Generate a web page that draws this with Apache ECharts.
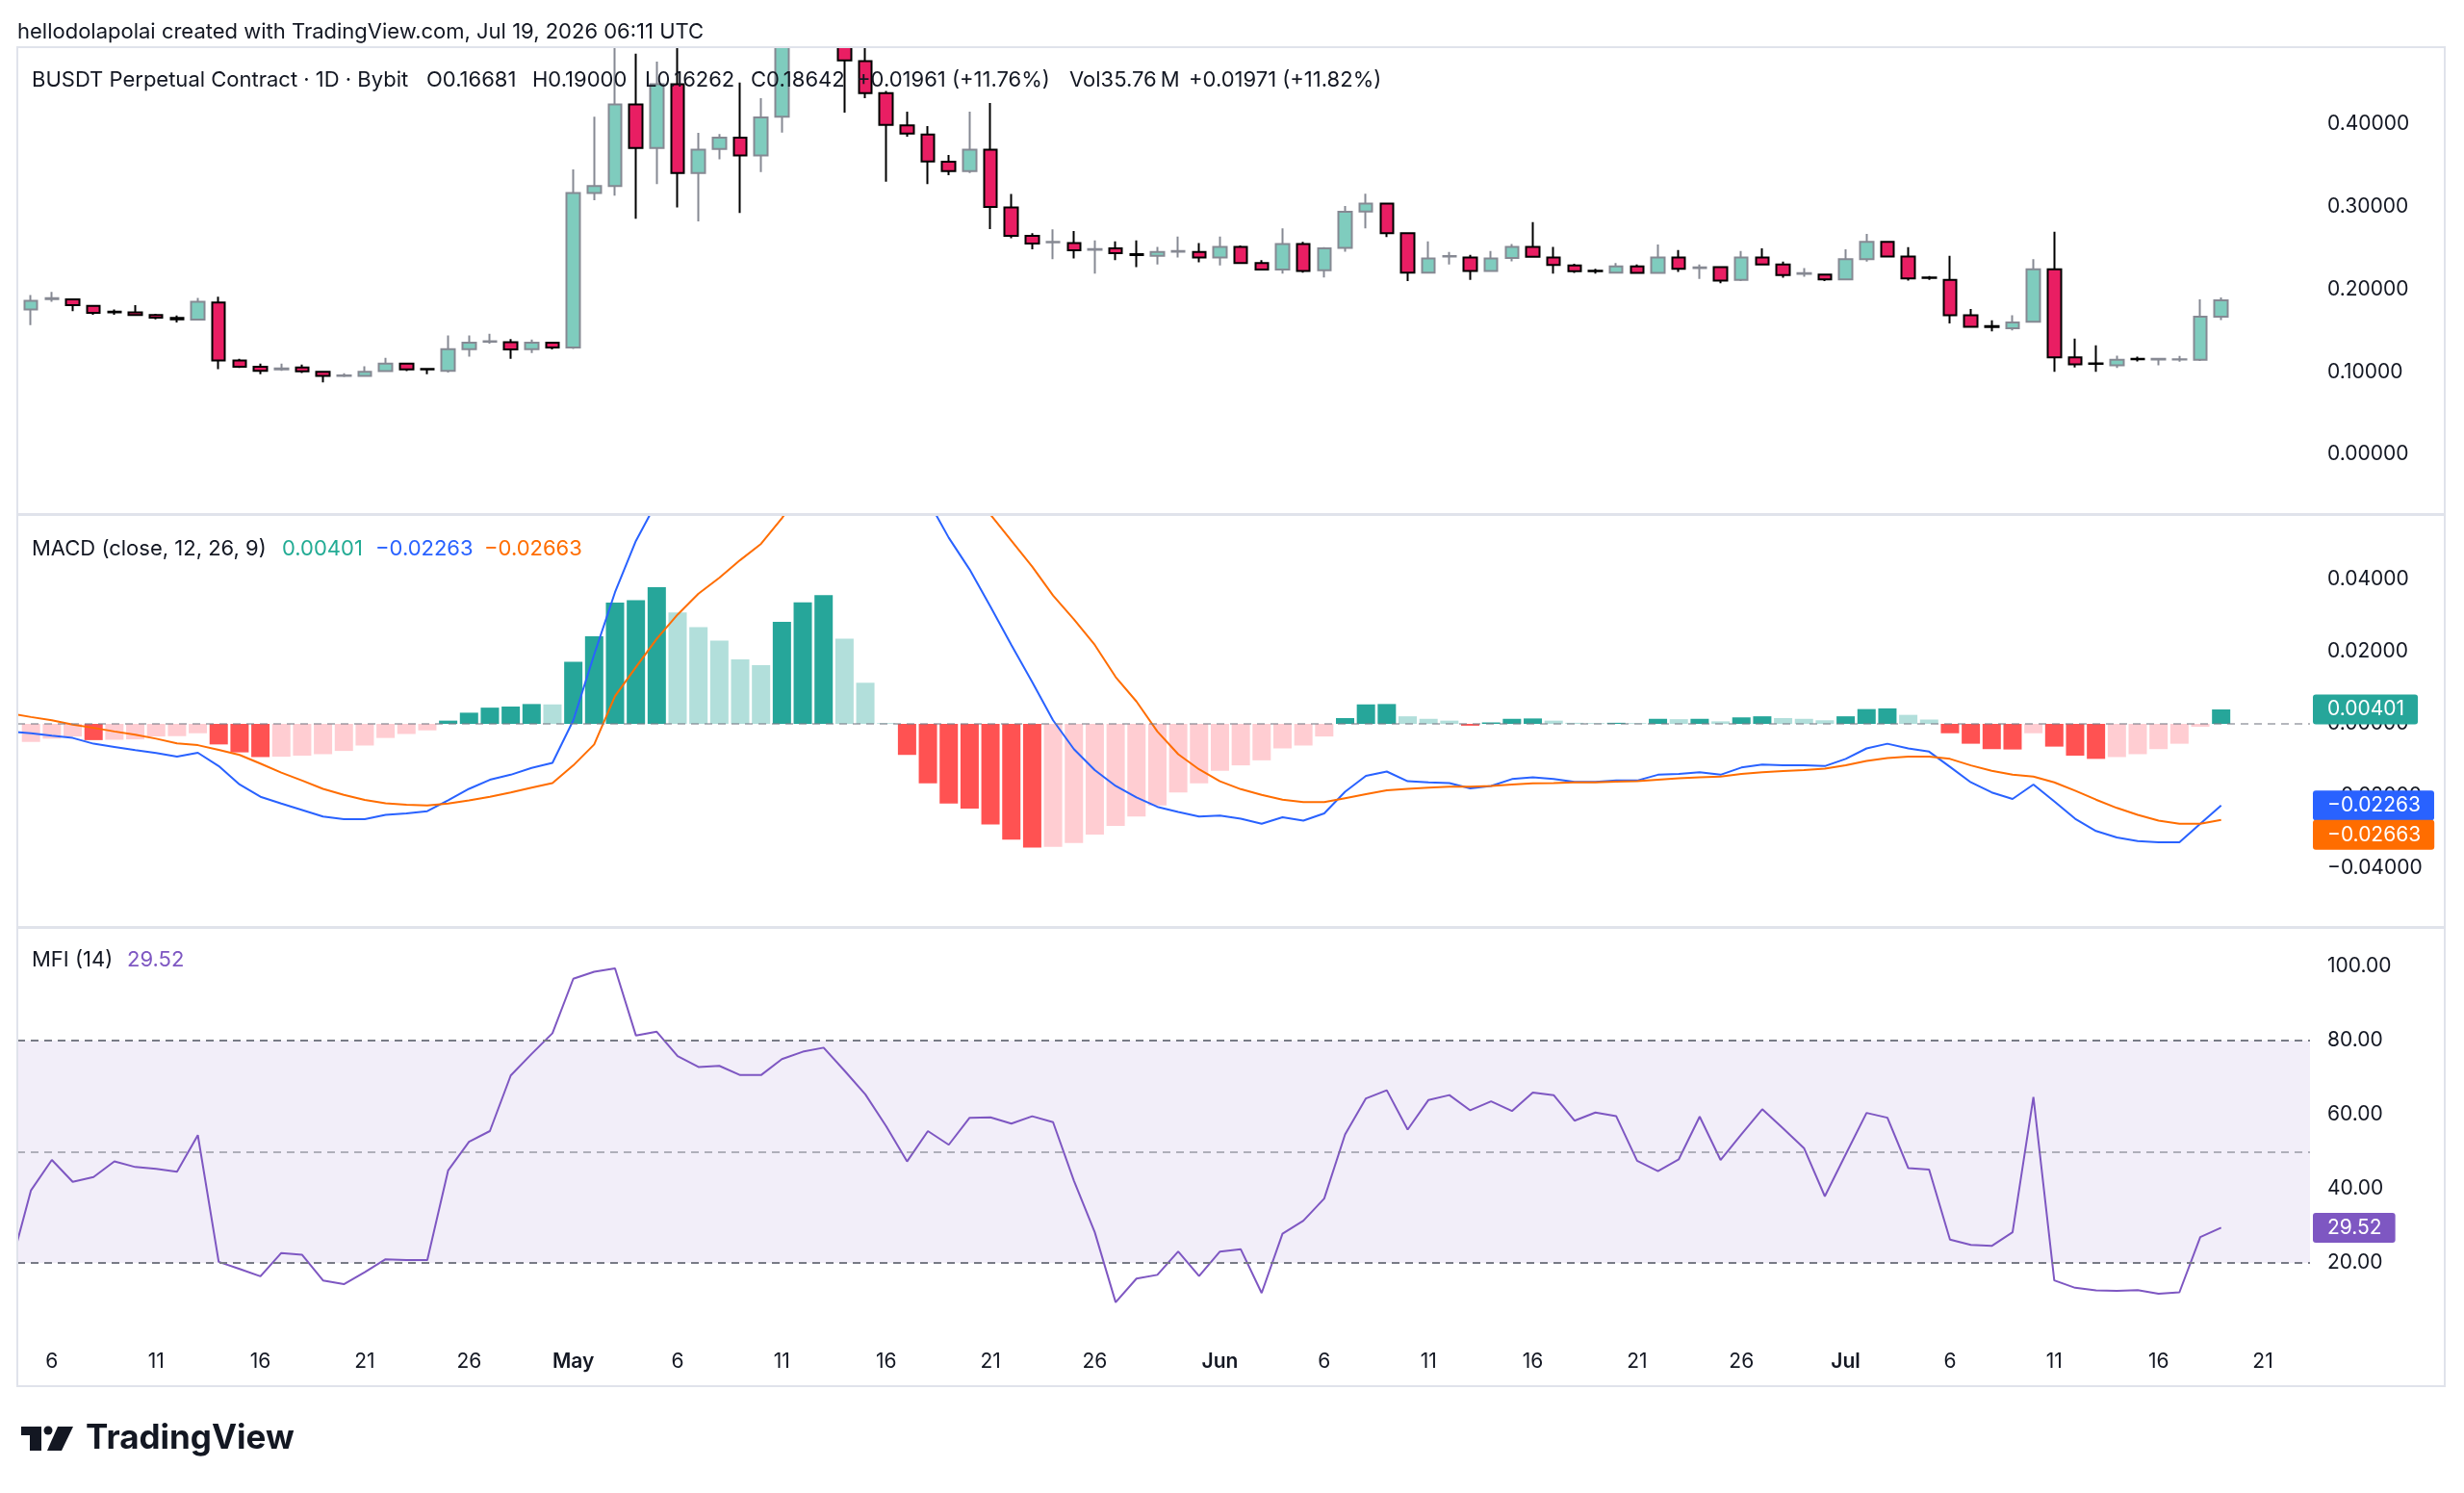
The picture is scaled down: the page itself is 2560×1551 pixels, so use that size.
<!DOCTYPE html>
<html>
<head>
<meta charset="utf-8">
<title>BUSDT Perpetual Contract 1D</title>
<script src="https://cdn.jsdelivr.net/npm/echarts@6/dist/echarts.min.js"></script>
<style>
    html, body { margin: 0; padding: 0; background: #ffffff; }
    #main { width: 2560px; height: 1551px; }
</style>
</head>
<body>
<div id="main"></div>
<script>
// daily candles, Apr 5 .. Jul 19 (index 0 = Apr 5)
const openP = [
    0.1753, 0.1880, 0.1877, 0.1799, 0.1729, 0.1718, 0.1686, 0.1651, 0.1632, 0.1838,
    0.1137, 0.1060, 0.1028, 0.1052, 0.1001, 0.0951, 0.0951, 0.1009, 0.1098, 0.1036,
    0.1013, 0.1274, 0.1363, 0.1359, 0.1274, 0.1352, 0.1293, 0.3162, 0.3248, 0.4233,
    0.3708, 0.4479, 0.3404, 0.3696, 0.3832, 0.3618, 0.4085, 0.5200, 0.5600, 0.5300,
    0.4759, 0.4370, 0.3980, 0.3871, 0.3540, 0.3427, 0.3688, 0.2987, 0.2645, 0.2567,
    0.2559, 0.2477, 0.2493, 0.2423, 0.2403, 0.2454, 0.2450, 0.2384, 0.2512, 0.2317,
    0.2236, 0.2547, 0.2228, 0.2500, 0.2940, 0.3034, 0.2676, 0.2201, 0.2395, 0.2384,
    0.2220, 0.2376, 0.2512, 0.2384, 0.2286, 0.2224, 0.2201, 0.2275, 0.2197, 0.2384,
    0.2255, 0.2267, 0.2111, 0.2384, 0.2298, 0.2185, 0.2177, 0.2119, 0.2364, 0.2571,
    0.2395, 0.2142, 0.2111, 0.1683, 0.1554, 0.1527, 0.1605, 0.2240, 0.1176, 0.1102,
    0.1079, 0.1157, 0.1149, 0.1149, 0.1145, 0.16681
];
const closeP = [
    0.1858, 0.1890, 0.1807, 0.1714, 0.1718, 0.1686, 0.1655, 0.1636, 0.1846, 0.1137,
    0.1060, 0.1013, 0.1040, 0.1005, 0.0951, 0.0958, 0.1001, 0.1098, 0.1028, 0.1028,
    0.1274, 0.1352, 0.1371, 0.1270, 0.1352, 0.1293, 0.3162, 0.3248, 0.4233, 0.3708,
    0.4479, 0.3404, 0.3688, 0.3832, 0.3618, 0.4078, 0.5200, 0.5600, 0.5300, 0.4767,
    0.4370, 0.3988, 0.3883, 0.3544, 0.3427, 0.3688, 0.2995, 0.2645, 0.2551, 0.2571,
    0.2469, 0.2485, 0.2434, 0.2411, 0.2450, 0.2462, 0.2384, 0.2512, 0.2317, 0.2236,
    0.2547, 0.2220, 0.2493, 0.2937, 0.3034, 0.2676, 0.2201, 0.2372, 0.2399, 0.2220,
    0.2372, 0.2512, 0.2391, 0.2294, 0.2216, 0.2216, 0.2275, 0.2197, 0.2384, 0.2247,
    0.2263, 0.2103, 0.2384, 0.2298, 0.2169, 0.2193, 0.2119, 0.2364, 0.2571, 0.2395,
    0.2131, 0.2135, 0.1683, 0.1546, 0.1542, 0.1597, 0.2240, 0.1176, 0.1091, 0.1095,
    0.1145, 0.1153, 0.1157, 0.1153, 0.1668, 0.18642
];
const highP = [
    0.1928, 0.1967, 0.1885, 0.1803, 0.1753, 0.1807, 0.1702, 0.1682, 0.1893, 0.1908,
    0.1157, 0.1098, 0.1098, 0.1087, 0.1009, 0.0982, 0.1067, 0.1168, 0.1106, 0.1044,
    0.1441, 0.1441, 0.1461, 0.1395, 0.1391, 0.1363, 0.3447, 0.4085, 0.5200, 0.4849,
    0.4751, 0.5100, 0.3891, 0.3875, 0.4498, 0.4311, 0.5400, 0.6000, 0.5800, 0.5500,
    0.5000, 0.4397, 0.4148, 0.3972, 0.3622, 0.4148, 0.4253, 0.3151, 0.2676, 0.2723,
    0.2703, 0.2590, 0.2578, 0.2590, 0.2512, 0.2637, 0.2559, 0.2637, 0.2528, 0.2352,
    0.2734, 0.2571, 0.2508, 0.3007, 0.3155, 0.3046, 0.2688, 0.2578, 0.2450, 0.2415,
    0.2462, 0.2547, 0.2812, 0.2512, 0.2306, 0.2247, 0.2317, 0.2298, 0.2539, 0.2473,
    0.2298, 0.2271, 0.2462, 0.2493, 0.2333, 0.2255, 0.2189, 0.2481, 0.2668, 0.2578,
    0.2508, 0.2158, 0.2403, 0.1761, 0.1624, 0.1683, 0.2364, 0.2695, 0.1402, 0.1321,
    0.1196, 0.1184, 0.1165, 0.1192, 0.1877, 0.19000
];
const lowP = [
    0.1566, 0.1846, 0.1733, 0.1690, 0.1690, 0.1682, 0.1636, 0.1597, 0.1624, 0.1032,
    0.1048, 0.0970, 0.1013, 0.0986, 0.0873, 0.0935, 0.0943, 0.1001, 0.1009, 0.0970,
    0.0993, 0.1184, 0.1340, 0.1157, 0.1227, 0.1270, 0.1278, 0.3077, 0.3131, 0.2851,
    0.3272, 0.2987, 0.2820, 0.3571, 0.2921, 0.3416, 0.3895, 0.5100, 0.5100, 0.4136,
    0.4311, 0.3299, 0.3844, 0.3272, 0.3377, 0.3404, 0.2726, 0.2617, 0.2481, 0.2364,
    0.2372, 0.2189, 0.2352, 0.2267, 0.2298, 0.2384, 0.2325, 0.2286, 0.2306, 0.2228,
    0.2189, 0.2201, 0.2142, 0.2454, 0.2734, 0.2629, 0.2099, 0.2197, 0.2298, 0.2111,
    0.2216, 0.2337, 0.2384, 0.2189, 0.2197, 0.2189, 0.2197, 0.2189, 0.2189, 0.2208,
    0.2123, 0.2072, 0.2099, 0.2294, 0.2138, 0.2150, 0.2099, 0.2111, 0.2333, 0.2391,
    0.2103, 0.2111, 0.1585, 0.1539, 0.1488, 0.1500, 0.1597, 0.1001, 0.1052, 0.1001,
    0.1048, 0.1126, 0.1079, 0.1122, 0.1130, 0.16262
];

// MACD (12, 26, 9)
const macdHist = [
    -0.0050, -0.0041, -0.0035, -0.0045, -0.0044, -0.0043, -0.0035, -0.0034, -0.0026, -0.0057,
    -0.0079, -0.0092, -0.0091, -0.0088, -0.0084, -0.0075, -0.0060, -0.0039, -0.0028, -0.0018,
    0.0009, 0.0031, 0.0045, 0.0048, 0.0055, 0.0054, 0.0172, 0.0243, 0.0336, 0.0343,
    0.0379, 0.0309, 0.0268, 0.0231, 0.0179, 0.0163, 0.0283, 0.0337, 0.0357, 0.0236,
    0.0114, 0.0002, -0.0086, -0.0165, -0.0221, -0.0235, -0.0279, -0.0321, -0.0343, -0.0341,
    -0.0330, -0.0307, -0.0283, -0.0257, -0.0226, -0.0190, -0.0165, -0.0130, -0.0115, -0.0101,
    -0.0068, -0.0060, -0.0035, 0.0016, 0.0054, 0.0055, 0.0021, 0.0014, 0.0009, -0.0005,
    0.0004, 0.0014, 0.0015, 0.0009, 0.0003, 0.0002, 0.0003, 0.0002, 0.0014, 0.0013,
    0.0014, 0.0007, 0.0018, 0.0021, 0.0016, 0.0014, 0.0010, 0.0021, 0.0041, 0.0043,
    0.0025, 0.0012, -0.0026, -0.0055, -0.0070, -0.0071, -0.0026, -0.0063, -0.0088, -0.0097,
    -0.0092, -0.0084, -0.0070, -0.0055, -0.0008, 0.00401
];
const macdLine = [
    -0.0026, -0.0033, -0.0039, -0.0055, -0.0064, -0.0073, -0.0081, -0.0091, -0.0080, -0.0117,
    -0.0168, -0.0202, -0.0221, -0.0239, -0.0257, -0.0264, -0.0264, -0.0252, -0.0248, -0.0242,
    -0.0212, -0.0180, -0.0155, -0.0141, -0.0122, -0.0108, 0.0010, 0.0192, 0.0365, 0.0507,
    0.0615, 0.0612, 0.0629, 0.0636, 0.0633, 0.0662, 0.0853, 0.0990, 0.1100, 0.1038,
    0.0945, 0.0833, 0.0724, 0.0620, 0.0516, 0.0428, 0.0325, 0.0219, 0.0116, 0.0010,
    -0.0070, -0.0128, -0.0172, -0.0204, -0.0230, -0.0244, -0.0257, -0.0254, -0.0263, -0.0277,
    -0.0259, -0.0268, -0.0248, -0.0188, -0.0144, -0.0132, -0.0159, -0.0162, -0.0164, -0.0179,
    -0.0172, -0.0153, -0.0148, -0.0153, -0.0161, -0.0161, -0.0157, -0.0157, -0.0141, -0.0139,
    -0.0134, -0.0141, -0.0121, -0.0113, -0.0115, -0.0115, -0.0117, -0.0097, -0.0068, -0.0055,
    -0.0068, -0.0077, -0.0119, -0.0162, -0.0190, -0.0208, -0.0168, -0.0215, -0.0263, -0.0297,
    -0.0315, -0.0325, -0.0328, -0.0328, -0.0277, -0.02263
];
const signalLine = [
    0.0019, 0.0010, -0.0002, -0.0011, -0.0021, -0.0030, -0.0041, -0.0054, -0.0059, -0.0072,
    -0.0086, -0.0110, -0.0135, -0.0157, -0.0180, -0.0197, -0.0211, -0.0220, -0.0224, -0.0226,
    -0.0221, -0.0212, -0.0202, -0.0190, -0.0177, -0.0164, -0.0115, -0.0057, 0.0077, 0.0157,
    0.0236, 0.0303, 0.0361, 0.0405, 0.0454, 0.0499, 0.0570, 0.0654, 0.0743, 0.0802,
    0.0831, 0.0831, 0.0810, 0.0775, 0.0737, 0.0663, 0.0580, 0.0508, 0.0436, 0.0356,
    0.0290, 0.0219, 0.0130, 0.0062, -0.0021, -0.0084, -0.0126, -0.0159, -0.0181, -0.0197,
    -0.0210, -0.0217, -0.0217, -0.0206, -0.0195, -0.0184, -0.0180, -0.0177, -0.0174, -0.0174,
    -0.0172, -0.0168, -0.0165, -0.0164, -0.0162, -0.0162, -0.0160, -0.0159, -0.0155, -0.0151,
    -0.0148, -0.0146, -0.0139, -0.0134, -0.0131, -0.0128, -0.0124, -0.0115, -0.0103, -0.0095,
    -0.0091, -0.0091, -0.0097, -0.0115, -0.0130, -0.0141, -0.0146, -0.0162, -0.0185, -0.0210,
    -0.0233, -0.0252, -0.0268, -0.0277, -0.0277, -0.02663
];

// MFI (14)
const mfiValues = [
    39.6, 47.8, 41.9, 43.2, 47.4, 45.9, 45.4, 44.6, 54.5, 20.3,
    18.4, 16.4, 22.7, 22.2, 15.3, 14.3, 17.5, 21.0, 20.8, 20.8,
    45.0, 52.7, 55.6, 70.6, 76.4, 82.0, 96.7, 98.6, 99.5, 81.4,
    82.4, 75.8, 72.9, 73.2, 70.7, 70.7, 75.0, 77.0, 78.1, 71.9,
    65.5, 56.9, 47.4, 55.6, 51.9, 59.2, 59.3, 57.6, 59.6, 58.0,
    42.2, 28.3, 9.4, 15.8, 16.8, 23.1, 16.5, 23.1, 23.7, 11.9,
    27.9, 31.4, 37.4, 54.7, 64.4, 66.6, 56.0, 64.0, 65.3, 61.2,
    63.6, 61.0, 66.0, 65.3, 58.4, 60.6, 59.6, 47.6, 44.8, 48.0,
    59.5, 47.8, 54.7, 61.5, 56.3, 51.0, 38.0, 49.3, 60.5, 59.2,
    45.6, 45.2, 26.3, 24.9, 24.6, 28.3, 64.8, 15.3, 13.3, 12.6,
    12.5, 12.7, 11.7, 12.1, 27.0, 29.52
];

// indicator values of Apr 4, the day just left of the visible window
const macdApr4 = -0.0021;
const signalApr4 = 0.0029;
const mfiApr4 = 18.6;

// time axis labels (day index from Apr 5)
const tickIndex = [1, 6, 11, 16, 21, 26, 31, 36, 41, 46, 51, 57, 62, 67, 72, 77, 82, 87, 92, 97, 102, 107];
const tickLabels = ['6', '11', '16', '21', '26', 'May', '6', '11', '16', '21', '26', 'Jun', '6', '11', '16', '21', '26', 'Jul', '6', '11', '16', '21'];
const priceTicks = [0, 0.1, 0.2, 0.3, 0.4];
const macdTicks = [-0.04, -0.02, 0, 0.02, 0.04];
const mfiTicks = [20, 40, 60, 80, 100];

(function () {
    const FONT = 'Inter, Roboto, sans-serif';
    const TEXT = '#131722';
    const last = openP.length - 1;

    const chart = echarts.init(document.getElementById('main'));

    const fmtSigned = (v, d) => (v < 0 ? '\u2212' : '') + Math.abs(v).toFixed(d);
    const withPrev = (prev, arr) => [[-1, prev]].concat(arr.map((v, i) => [i, v]));

    // TradingView histogram colours
    const histColor = (i) => {
        const v = macdHist[i];
        const prev = i > 0 ? macdHist[i - 1] : -Infinity;
        if (v >= 0) return v > prev ? '#26a69a' : '#b2dfdb';
        return v > prev ? '#ffcdd2' : '#ff5252';
    };

    // value tag on the price scale (invisible line, label at the end)
    const tag = (value, color, text, vAlign) => ({
        yAxis: value,
        lineStyle: { color: 'rgba(0,0,0,0)', width: 1 },
        label: {
            show: true,
            position: 'end',
            distance: 3,
            formatter: text,
            color: '#ffffff',
            backgroundColor: color,
            borderRadius: 3,
            fontFamily: FONT,
            fontSize: 21,
            lineHeight: 21,
            padding: [5, 14, 5, 15],
            verticalAlign: vAlign || 'middle'
        }
    });

    const dashed = (value, color) => ({
        yAxis: value,
        lineStyle: { color: color, type: [8, 6], width: 2 },
        label: { show: false }
    });

    const xBase = (grid) => ({
        type: 'value',
        gridIndex: grid,
        min: -0.655,
        max: 109.26,
        axisLine: { show: false },
        axisTick: { show: false },
        splitLine: { show: false },
        axisLabel: { show: false }
    });

    const yBase = (grid, min, max, ticks, fmt) => ({
        type: 'value',
        gridIndex: grid,
        position: 'right',
        min: min,
        max: max,
        axisLine: { show: false },
        axisTick: { show: false },
        splitLine: { show: false },
        axisLabel: {
            customValues: ticks,
            formatter: fmt,
            margin: 18,
            align: 'left',
            color: TEXT,
            fontFamily: FONT,
            fontSize: 21
        }
    });

    const xLabels = xBase(2);
    xLabels.axisLabel = {
        show: true,
        customValues: tickIndex,
        margin: 13,
        color: TEXT,
        fontFamily: FONT,
        fontSize: 21,
        formatter: (v) => {
            const k = tickIndex.indexOf(Math.round(v));
            const t = k >= 0 ? tickLabels[k] : '';
            return /^[A-Z]/.test(t) ? '{m|' + t + '}' : t;
        },
        rich: { m: { fontWeight: 600, fontSize: 21, fontFamily: FONT, color: TEXT } }
    };

    const txt = (x, y, text, color, size, weight) => ({
        type: 'text', x: x, y: y, silent: true, z: 20,
        style: {
            text: text, fill: color, fontFamily: FONT, fontSize: size,
            fontWeight: weight || 'normal', verticalAlign: 'middle'
        }
    });

    chart.setOption({
        animation: false,
        backgroundColor: '#ffffff',
        textStyle: { fontFamily: FONT },
        grid: [
            { left: 18, width: 2382, top: 49, height: 485 },
            { left: 18, width: 2382, top: 535, height: 428 },
            { left: 18, width: 2382, top: 964, height: 427 }
        ],
        xAxis: [xBase(0), xBase(1), xLabels],
        yAxis: [
            yBase(0, -0.072, 0.4927, priceTicks, (v) => v.toFixed(5)),
            yBase(1, -0.0563, 0.0579, macdTicks, (v) => fmtSigned(v, 5)),
            yBase(2, -0.5, 110.4, mfiTicks, (v) => v.toFixed(2))
        ],
        series: [
            {
                type: 'candlestick',
                xAxisIndex: 0,
                yAxisIndex: 0,
                clip: true,
                barWidth: 14,
                encode: { x: 0, y: [1, 2, 3, 4] },
                data: openP.map((o, i) => [i, o, closeP[i], lowP[i], highP[i]]),
                itemStyle: {
                    color: '#7fccbe',
                    color0: '#e91e63',
                    borderColor: '#868993',
                    borderColor0: '#000000',
                    borderWidth: 2
                }
            },
            {
                type: 'bar',
                xAxisIndex: 1,
                yAxisIndex: 1,
                barWidth: 19,
                data: macdHist.map((v, i) => ({ value: [i, v], itemStyle: { color: histColor(i) } })),
                markLine: {
                    silent: true,
                    precision: 6,
                    symbol: ['none', 'none'],
                    data: [
                        dashed(0, 'rgba(120,123,134,0.55)'),
                        tag(macdHist[last], '#26a69a', macdHist[last].toFixed(5))
                    ]
                }
            },
            {
                type: 'line',
                xAxisIndex: 1,
                yAxisIndex: 1,
                z: 3,
                showSymbol: false,
                lineStyle: { color: '#2962ff', width: 2 },
                data: withPrev(macdApr4, macdLine),
                markLine: {
                    silent: true,
                    precision: 6,
                    symbol: ['none', 'none'],
                    data: [tag(macdLine[last], '#2962ff', fmtSigned(macdLine[last], 5))]
                }
            },
            {
                type: 'line',
                xAxisIndex: 1,
                yAxisIndex: 1,
                z: 3,
                showSymbol: false,
                lineStyle: { color: '#ff6d00', width: 2 },
                data: withPrev(signalApr4, signalLine),
                markLine: {
                    silent: true,
                    precision: 6,
                    symbol: ['none', 'none'],
                    data: [tag(signalLine[last], '#ff6d00', fmtSigned(signalLine[last], 5), 'top')]
                }
            },
            {
                type: 'line',
                xAxisIndex: 2,
                yAxisIndex: 2,
                z: 3,
                showSymbol: false,
                lineStyle: { color: '#7e57c2', width: 2 },
                data: withPrev(mfiApr4, mfiValues),
                markArea: {
                    silent: true,
                    itemStyle: { color: 'rgba(126,87,194,0.1)' },
                    data: [[{ yAxis: 20 }, { yAxis: 80 }]]
                },
                markLine: {
                    silent: true,
                    precision: 4,
                    symbol: ['none', 'none'],
                    data: [
                        dashed(80, '#787b86'),
                        dashed(50, 'rgba(120,123,134,0.55)'),
                        dashed(20, '#787b86'),
                        tag(mfiValues[last], '#7e57c2', mfiValues[last].toFixed(2))
                    ]
                }
            }
        ],
        graphic: [
            // candles above the pane top are cut off
            { type: 'rect', silent: true, z: 10, shape: { x: 0, y: 0, width: 2560, height: 48 },
              style: { fill: '#ffffff' } },
            // frame and pane separators
            { type: 'rect', silent: true, z: 15, shape: { x: 18, y: 49, width: 2522, height: 1391 },
              style: { fill: 'none', stroke: '#e0e3eb', lineWidth: 2 } },
            { type: 'line', silent: true, z: 15, shape: { x1: 18, y1: 534.5, x2: 2540, y2: 534.5 },
              style: { stroke: '#e0e3eb', lineWidth: 3 } },
            { type: 'line', silent: true, z: 15, shape: { x1: 18, y1: 963.5, x2: 2540, y2: 963.5 },
              style: { stroke: '#e0e3eb', lineWidth: 3 } },

            txt(18, 33, 'hellodolapolai created with TradingView.com, Jul 19, 2026 06:11 UTC', TEXT, 22),

            // price legend
            txt(33, 83, 'BUSDT Perpetual Contract \u00b7 1D \u00b7 Bybit', TEXT, 22),
            txt(443, 83, 'O0.16681', TEXT, 22),
            txt(553, 83, 'H0.19000', TEXT, 22),
            txt(670, 83, 'L0.16262', TEXT, 22),
            txt(780, 83, 'C0.18642', TEXT, 22),
            txt(890, 83, '+0.01961 (+11.76%)', TEXT, 22),
            txt(1111, 83, 'Vol35.76\u2009M', TEXT, 22),
            txt(1235, 83, '+0.01971 (+11.82%)', TEXT, 22),

            // MACD legend
            txt(33, 570, 'MACD (close, 12, 26, 9)', TEXT, 22),
            txt(293, 570, macdHist[last].toFixed(5), '#22ab94', 22),
            txt(390, 570, fmtSigned(macdLine[last], 5), '#2962ff', 22),
            txt(503, 570, fmtSigned(signalLine[last], 5), '#ff6d00', 22),

            // MFI legend
            txt(33, 997, 'MFI (14)', TEXT, 22),
            txt(132, 997, mfiValues[last].toFixed(2), '#7e57c2', 22),

            // TradingView logo
            { type: 'rect', silent: true, shape: { x: 22, y: 1482, width: 21, height: 9 }, style: { fill: '#131722' } },
            { type: 'rect', silent: true, shape: { x: 31, y: 1482, width: 12, height: 25 }, style: { fill: '#131722' } },
            { type: 'circle', silent: true, shape: { cx: 50, cy: 1486, r: 4.5 }, style: { fill: '#131722' } },
            { type: 'polygon', silent: true, shape: { points: [[60, 1482], [76, 1482], [64, 1507], [49, 1507]] }, style: { fill: '#131722' } },
            txt(89, 1494, 'TradingView', TEXT, 35, 'bold')
        ]
    });
})();
</script>
</body>
</html>
